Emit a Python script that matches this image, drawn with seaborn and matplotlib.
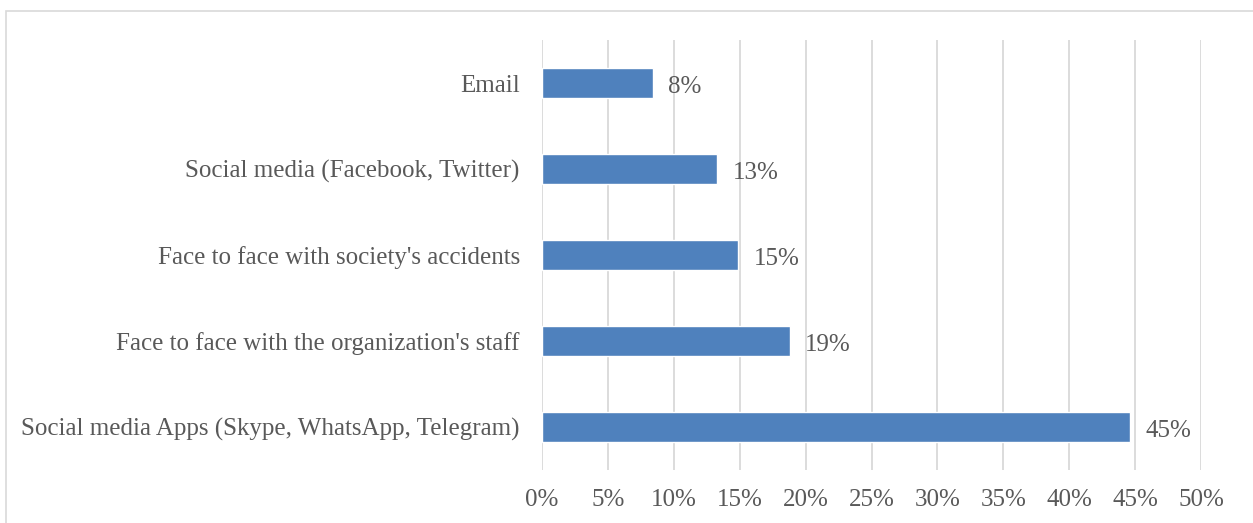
import matplotlib
matplotlib.use("Agg")
import matplotlib.pyplot as plt
from matplotlib.patches import Rectangle
import seaborn as sns
import pandas as pd

# Communication channels and the share of respondents using each (%)
channels = [
    "Email",
    "Social media (Facebook, Twitter)",
    "Face to face with society's accidents",
    "Face to face with the organization's staff",
    "Social media Apps (Skype, WhatsApp, Telegram)",
]
shares = [8.4, 13.3, 14.9, 18.8, 44.6]
ticks = [0, 5, 10, 15, 20, 25, 30, 35, 40, 45, 50]

df = pd.DataFrame({"channel": channels, "share": shares})

sns.set_theme(style="white")
plt.rcParams["font.family"] = ["Liberation Serif", "DejaVu Serif"]

text_color = "#595959"
bar_color = "#4F81BD"
grid_color = "#D9D9D9"
fs = 18

fig = plt.figure(figsize=(12.53, 5.23), dpi=100)
ax = fig.add_axes([542 / 1253, 1 - 470 / 523, (1201 - 542) / 1253, (470 - 40) / 523])

sns.barplot(data=df, x="share", y="channel", orient="h", color=bar_color,
            saturation=1, width=0.35, ax=ax, zorder=3)

ax.set_xlim(0, 50)
ax.set_ylim(4.5, -0.5)
ax.set_xticks(ticks)
ax.set_xticklabels([f"{t}%" for t in ticks])
ax.xaxis.grid(True, color=grid_color, linewidth=1.3, zorder=0)
ax.set_axisbelow(True)
for s in ax.spines.values():
    s.set_visible(False)
ax.tick_params(axis="both", length=0, labelsize=fs, labelcolor=text_color)
ax.tick_params(axis="x", pad=14)
ax.tick_params(axis="y", pad=16)
for lbl in ax.get_yticklabels():
    lbl.set_verticalalignment("center_baseline")
ax.set_xlabel("")
ax.set_ylabel("")

# Value labels at the end of each bar
for i, v in enumerate(shares):
    ax.annotate(f"{v:.0f}%", xy=(v, i), xytext=(11, -1), textcoords="offset points",
                va="center_baseline", ha="left", fontsize=fs, color=text_color)

# Chart frame
fig.patches.append(Rectangle((6 / 1253, -0.2), 1.5, 1 - 11 / 523 + 0.2,
                             transform=fig.transFigure, fill=False,
                             edgecolor=grid_color, linewidth=1.2))

fig.savefig("out.png", dpi=100)
